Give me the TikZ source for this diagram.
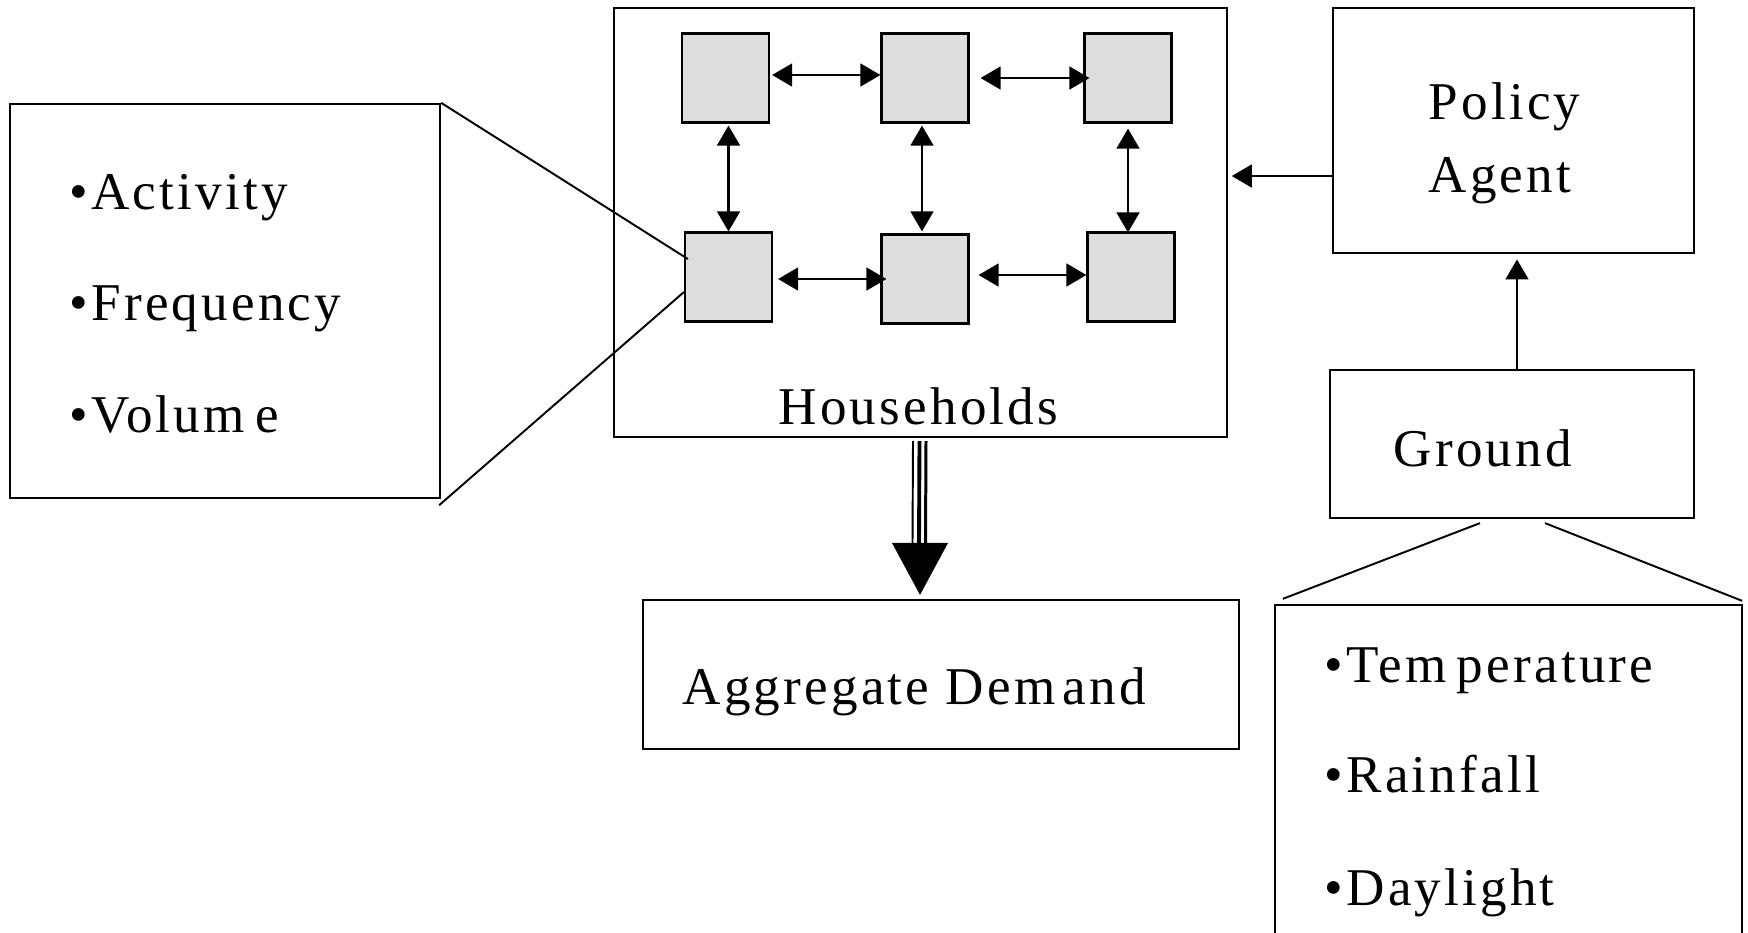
\documentclass[tikz,border=0pt]{standalone}
\usepackage{fontspec}
\setmainfont{Liberation Serif}[LetterSpace=6]
\usetikzlibrary{arrows.meta,calc}
\definecolor{agentgray}{HTML}{DDDDDD}
\tikzset{
  box/.style={draw, line width=0.6pt, inner sep=0pt, fill=white},
  agent/.style={draw, line width=0.6pt, fill=agentgray, inner sep=0pt,
    minimum width=0.87cm, minimum height=0.89cm},
  label/.style={anchor=base west, inner sep=0pt,
    font=\fontsize{15.1}{18}\selectfont},
  link/.style={line width=0.6pt, -{Triangle[length=5.7pt,width=6.5pt]}},
  dlink/.style={line width=0.6pt, {Triangle[length=5.7pt,width=6.5pt]}-{Triangle[length=5.7pt,width=6.5pt]}},
  zoomline/.style={line width=0.55pt}
}
\begin{document}
\begin{tikzpicture}[x=0.01cm,y=-0.01cm]
\useasboundingbox (0,0) rectangle (1748,932);
\clip (0,0) rectangle (1748,932);

% main boxes
\node[box, minimum width=6.13cm, minimum height=4.29cm] (hh) at (920.5,222.5) {};
\node[box, minimum width=4.30cm, minimum height=3.94cm] (lbox) at (225,301) {};
\node[box, minimum width=3.61cm, minimum height=2.45cm] (pol) at (1513.5,130.5) {};
\node[box, minimum width=3.64cm, minimum height=1.48cm] (gr) at (1512,444) {};
\node[box, minimum width=4.67cm, minimum height=3.80cm] (wbox) at (1508.5,795) {};
\node[box, minimum width=5.96cm, minimum height=1.49cm] (ad) at (941,674.5) {};

% household agents
\node[agent] (tl) at (725.5,78) {};
\node[agent] (tm) at (925,78) {};
\node[agent] (tr) at (1128,78) {};
\node[agent] (bl) at (728.5,277) {};
\node[agent] (bm) at (925,279) {};
\node[agent] (br) at (1131,277) {};

% interactions between agents
\draw[dlink] ($(tl.east)+(2,-3)$) -- ($(tm.west)+(0,-3)$);
\draw[dlink] ($(tm.east)+(11,0)$) -- ($(tr.west)+(6,0)$);
\draw[dlink] ($(bl.east)+(5,2)$) -- ($(bm.west)+(6,0)$);
\draw[dlink] ($(bm.east)+(9,-4)$) -- ($(br.west)+(0,-2)$);
\draw[dlink] ($(tl.south)+(3,2)$) -- ($(bl.north)+(0,0)$);
\draw[dlink] ($(tm.south)+(-3,2)$) -- ($(bm.north)+(-3,-2)$);
\draw[dlink] ($(tr.south)+(0,5)$) -- ($(br.north)+(-3,1)$);

% texts
\node[label] (hhtxt) at (778,424) {Households};
\node[label] (act) at (69,209) {\textbullet Activity};
\node[label] (freq) at (69,320) {\textbullet Frequency};
\node[label] (vol) at (69,432) {\textbullet Volum\kern3pt e};
\node[label] (pt1) at (1428,119) {Policy};
\node[label] (pt2) at (1428,192) {Agent};
\node[label] (grtxt) at (1393,466) {Ground};
\node[label] (temp) at (1324,682) {\textbullet Tem\kern3pt perature};
\node[label] (rain) at (1324,792) {\textbullet Rainfall};
\node[label] (day) at (1324,905) {\textbullet Daylight};
\node[label] (adtxt) at (682,704) {Aggregate D\kern1pt em\kern2pt and};

% zoom lines to the attribute boxes
\draw[zoomline] (lbox.north east) -- ($(bl.west)+(4,-18)$);
\draw[zoomline] ($(lbox.south east)+(-2,6)$) -- ($(bl.west)+(0,15)$);
\draw[zoomline] ($(gr.south)+(-32,4)$) -- ($(wbox.north west)+(9,-5)$);
\draw[zoomline] ($(gr.south)+(33,4)$) -- ($(wbox.north east)+(-1,-3)$);

% policy and ground links
\draw[link, shorten >=1pt] ($(pol.west)+(0,45.5)$) coordinate (pa) -- (pa -| hh.east);
\draw[link, shorten >=1.5pt] ($(gr.north)+(5,0)$) coordinate (ga) -- (ga |- pol.south);

% aggregation arrow
\coordinate (sh) at ($(hh.south)+(0,3)$);
\coordinate (tip) at ($(ad.north)+(-21,-4)$);
\draw[line width=0.55pt] ($(sh)+(-7.5,0)$) -- ($(tip)+(-7.5,-52)$);
\draw[line width=1.1pt] ($(sh)+(-1,0)$) -- ($(tip)+(-1,-52)$);
\draw[line width=0.85pt] ($(sh)+(5.5,0)$) -- ($(tip)+(5.5,-52)$);
\fill ($(tip)+(-28,-52)$) -- ($(tip)+(28,-52)$) -- (tip) -- cycle;
\end{tikzpicture}
\end{document}
